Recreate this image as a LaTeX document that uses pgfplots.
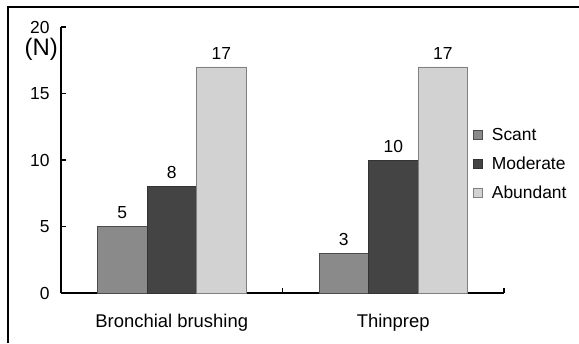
\documentclass[border=0pt]{standalone}
\usepackage{fontspec}
\setmainfont{Liberation Sans}
\usepackage{pgfplots}
\pgfplotsset{compat=1.18}
\definecolor{scant}{HTML}{8A8A8A}
\definecolor{moder}{HTML}{444444}
\definecolor{abund}{HTML}{D2D2D2}
\begin{document}
\begin{tikzpicture}[x=1bp,y=1bp]
\useasboundingbox (0,0) rectangle (579,343);
\draw[line width=1.6bp] (8,0) -- (8,336) -- (579,336);
\begin{axis}[
  at={(61bp,50bp)}, anchor=south west,
  scale only axis, width=443bp, height=266bp,
  xmin=-0.5, xmax=1.5, ymin=0, ymax=20,
  axis x line*=bottom, axis y line*=left,
  axis line style={line width=1.6bp, -},
  /pgf/number format/assume math mode=true,
  ybar=0pt, bar width=49.5bp,
  tick align=inside,
  ytick={0,5,10,15,20},
  ytick style={line width=1.4bp, black},
  major tick length=5bp,
  xtick={-0.5,0.5,1.5}, xticklabels={},
  xtick style={line width=1.4bp, black},
  extra x ticks={0,1},
  extra x tick labels={Bronchial brushing, Thinprep},
  extra x tick style={major tick length=0pt, xticklabel style={yshift=-18bp, font=\fontsize{18.5}{21}\selectfont}},
  ticklabel style={font=\fontsize{17.5}{20}\selectfont},
  yticklabel style={xshift=-8bp},
  nodes near coords,
  every node near coord/.append style={font=\fontsize{17.5}{20}\selectfont, anchor=south, yshift=4bp, black},
  legend style={draw=none, fill=none, at={(axis description cs:0.930,0.627)}, anchor=north west,
    font=\fontsize{17.5}{20}\selectfont, row sep=11bp, inner sep=0pt},
  legend cell align=left,
  legend image code/.code={\draw[#1, line width=0.6bp] (0bp,-4.5bp) rectangle (9bp,4.5bp); \path (16bp,0bp);},
  clip=false,
]
\addplot[fill=scant, draw=black!70, line width=0.8bp] coordinates {(0,5) (1,3)};
\addplot[fill=moder, draw=black!80, line width=0.8bp] coordinates {(0,8) (1,10)};
\addplot[fill=abund, draw=black!50, line width=0.8bp] coordinates {(0,17) (1,17)};
\legend{Scant, Moderate, Abundant}
\node[anchor=east, font=\fontsize{24}{28}\selectfont, inner sep=0pt] at (rel axis cs:0,0.915) [xshift=-3bp] {(N)};
\end{axis}
\end{tikzpicture}
\end{document}
